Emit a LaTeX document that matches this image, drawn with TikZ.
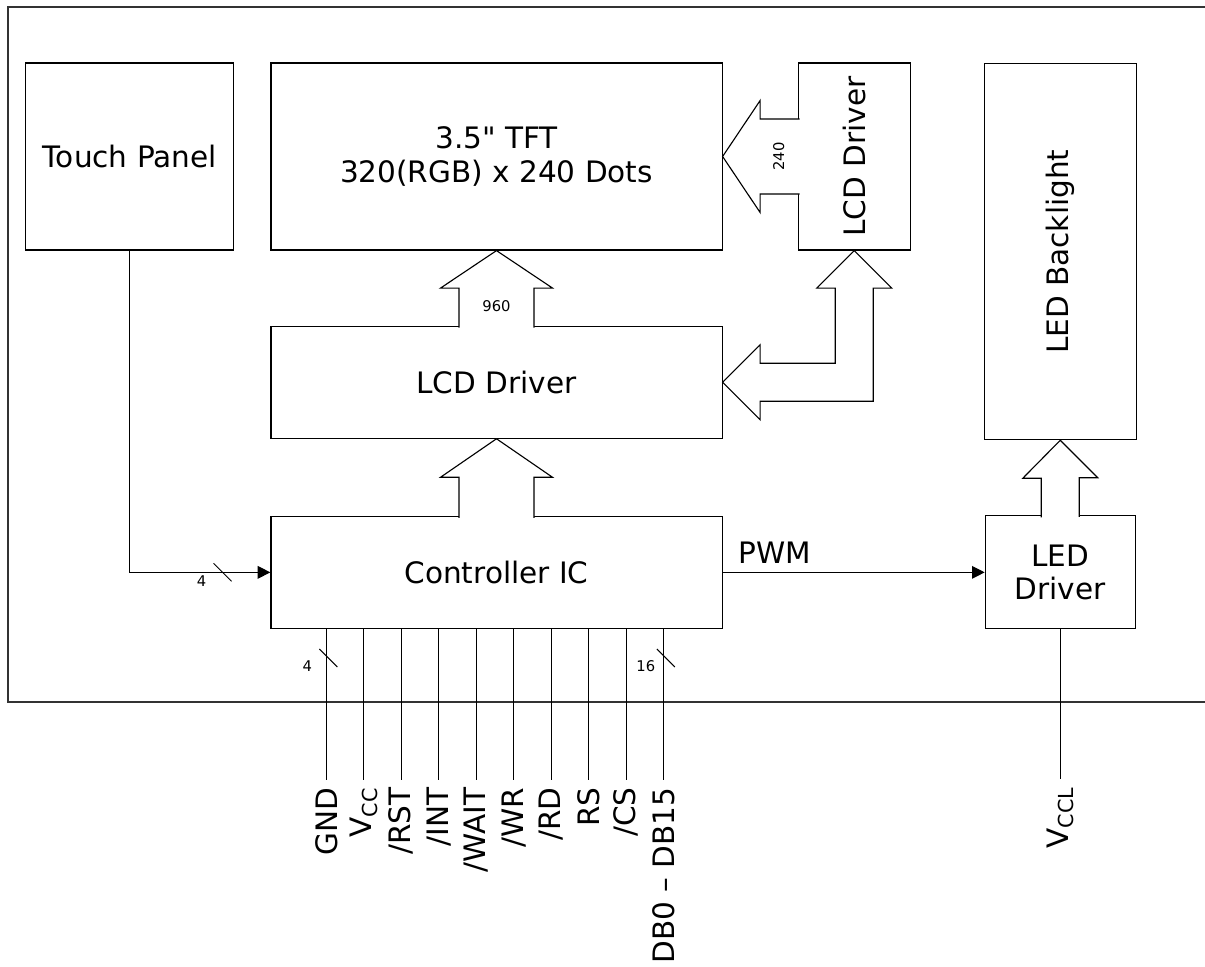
\documentclass[tikz,border=0pt]{standalone}
\usepackage{fontspec}
\setmainfont{DejaVu Sans}[Ligatures=TeXOff]
\usetikzlibrary{arrows.meta,positioning,calc}

\begin{document}
\begin{tikzpicture}[
    x=0.025cm, y=-0.025cm,
    node distance=1.875cm,
    box/.style={draw, line width=0.8pt, align=center, inner sep=0pt, font=\fontsize{21}{23.5}\selectfont},
    wide/.style={box, minimum width=11.275cm, minimum height=2.8cm},
    vlabel/.style={rotate=90, font=\fontsize{21}{23.5}\selectfont},
    bus/.style={draw, line width=0.8pt, fill=white, line join=miter},
    sig/.style={line width=0.8pt},
    sigarrow/.style={-{Triangle[length=9pt,width=9pt]}, line width=0.8pt},
    tick/.style={line width=0.7pt},
    small/.style={font=\fontsize{10.5}{12}\selectfont, inner sep=0pt},
    pinlbl/.style={rotate=90, anchor=east, inner sep=5pt, font=\fontsize{21}{23.5}\selectfont},
    frame/.style={line width=1.2pt, draw=black!80}
]
\useasboundingbox (0,0) rectangle (1205,967);
\draw[frame] (1205,7) -| (8,702) -- (1205,702);
% blocks
\node[box, minimum width=11.275cm, minimum height=4.675cm] (tft) at (496.5,156.5) {3.5" TFT\\320(RGB) x 240 Dots};
\node[box, minimum width=5.2cm, minimum height=4.675cm, left=0.9cm of tft] (touch) {Touch Panel};
\node[box, minimum width=2.8cm, minimum height=4.675cm, right=of tft, label={[vlabel]center:LCD Driver}] (lcdv) {};
\node[wide, below=of tft] (lcdmid) {LCD Driver};
\node[wide, below=1.925cm of lcdmid] (ctrl) {Controller IC};
\node[box, minimum width=3.75cm, minimum height=2.825cm, right=6.55cm of ctrl] (leddrv) {LED\\Driver};
\node[box, minimum width=3.8cm, minimum height=9.4cm, above=of leddrv, label={[vlabel]center:LED Backlight}] (backlight) {};
% bus arrows
\draw[bus] ($(lcdmid.north)+(-37.5,2)$) -- ++(0,-39.5) -- ++(-18.5,0) -- (tft.south) -- ++(56,37.5) -- ++(-18.5,0) -- ++(0,39.5);
\node[small] (n960) at ($(tft.south)+(0,56)$) {960};
\draw[bus] ($(ctrl.north)+(-37.5,2)$) -- ++(0,-40.5) -- ++(-18.5,0) -- (lcdmid.south) -- ++(56,38.5) -- ++(-18.5,0) -- ++(0,40.5);
\draw[bus] ($(lcdv.west)+(2,-37.5)$) -- ++(-39.5,0) -- ++(0,-18.5) -- (tft.east) -- ++(37.5,56) -- ++(0,-18.5) -- ++(39.5,0);
\node[small, rotate=90] (n240) at ($(tft.east)+(56,0)$) {240};
\draw[bus] ($(leddrv.north)+(-19,2)$) -- ++(0,-39) -- ++(-18.5,0) -- (backlight.south) -- ++(37.5,37.5) -- ++(-18.5,0) -- ++(0,39);
\draw[bus] (lcdmid.east) -- ++(37.5,-37.5) -- ++(0,18.5) -| ($(lcdv.south)+(-19,37.5)$) -- ++(-18.5,0) -- (lcdv.south) -- ++(37.5,37.5) -- ++(-18.5,0) |- ($(lcdmid.east)+(37.5,19)$) -- ++(0,18.5) -- cycle;
% signals
\draw[sigarrow] (touch.south) |- coordinate[pos=0.83] (tslash) (ctrl.west);
\draw[tick] ($(tslash)+(-9,-9)$) -- ($(tslash)+(9,9)$);
\node[small] at ($(tslash)+(-21,9)$) {4};
\draw[sigarrow] (ctrl.east) -- node[pos=0.2, above, inner sep=6pt, font=\fontsize{21}{23.5}\selectfont] {PWM} (leddrv.west);
\draw[sig] (leddrv.south) -- ++(0,150) node[pinlbl] {V\textsubscript{CCL}};
% pins
\foreach \lbl [count=\i from 0] in {GND, V\textsubscript{CC}, /RST, /INT, /WAIT, /WR, /RD, RS, /CS, DB0 – DB15}
  \draw[sig] ($(ctrl.south west)+({56+37.5*\i},0)$) coordinate (pin\i) -- ++(0,151) node[pinlbl] {\lbl};
\draw[tick] ($(pin0)+(-7,20)$) -- ($(pin0)+(11,38)$);
\node[small] at ($(pin0)+(-19,37)$) {4};
\draw[tick] ($(pin9)+(-7,20)$) -- ($(pin9)+(11,38)$);
\node[small] at ($(pin9)+(-18,37)$) {16};
\end{tikzpicture}
\end{document}
